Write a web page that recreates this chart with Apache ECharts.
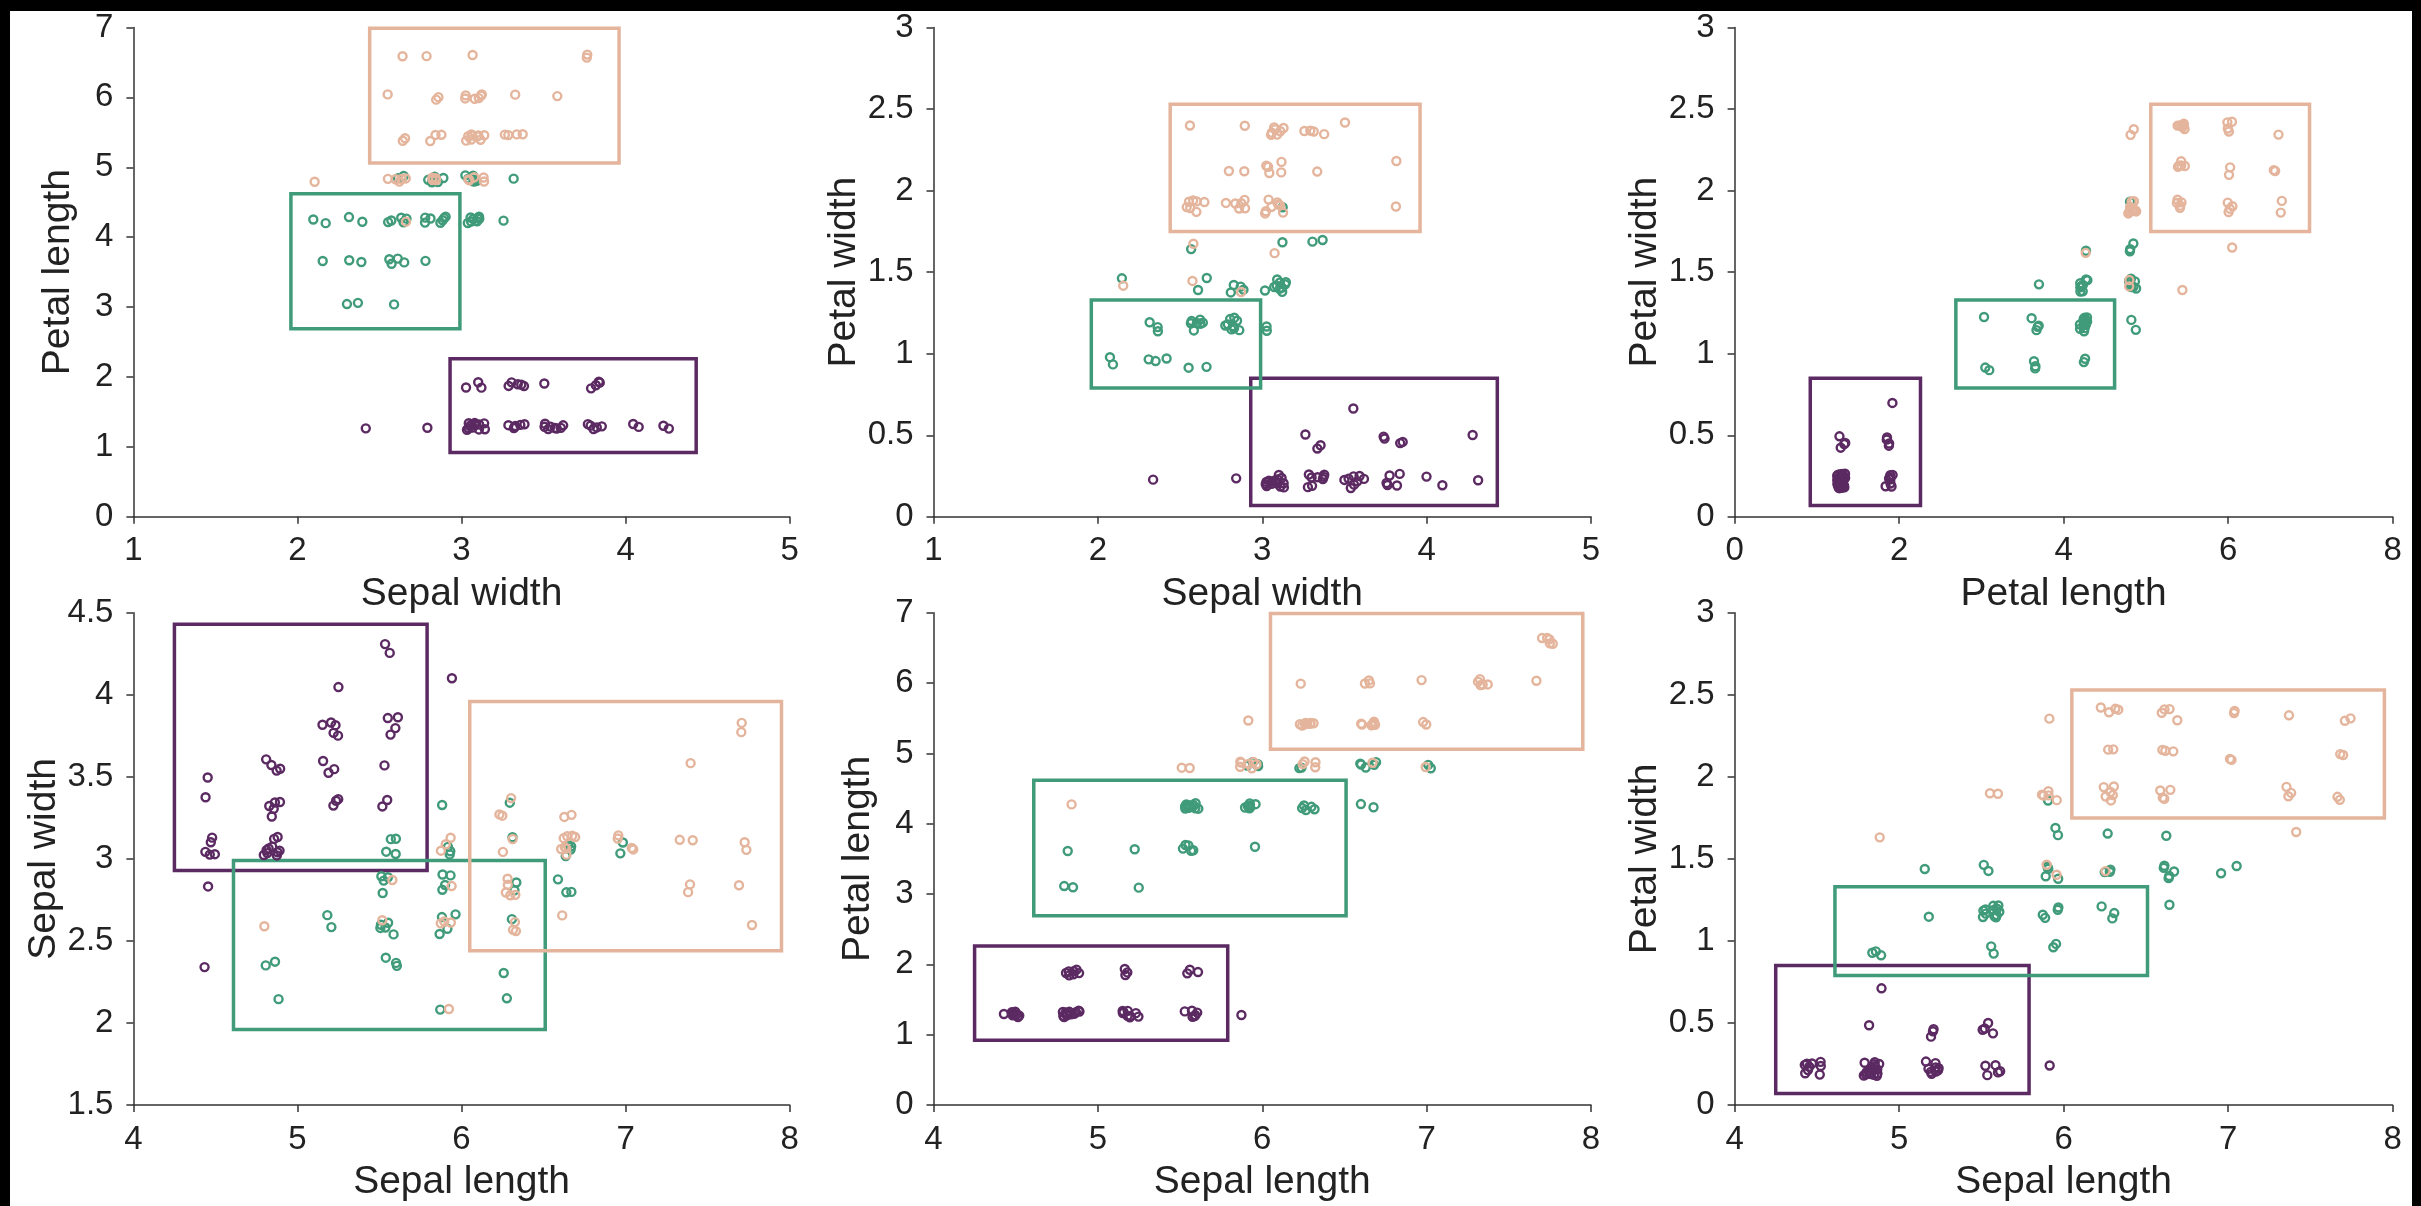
<!DOCTYPE html>
<html>
<head>
<meta charset="utf-8">
<title>iris bins</title>
<script src="https://cdn.jsdelivr.net/npm/echarts@6/dist/echarts.min.js"></script>
<style>
body{margin:0;background:#000;}
#chart{position:absolute;left:10px;top:11px;width:2402px;height:1195px;background:#fff;}
</style>
</head>
<body>
<div id="chart"></div>
<script>
// iris measurements, one array per species and variable
var setosaSL = [5.1,4.9,4.7,4.6,5.0,5.4,4.6,5.0,4.4,4.9,5.4,4.8,4.8,4.3,5.8,5.7,5.4,5.1,5.7,5.1,5.4,5.1,4.6,5.1,4.8,5.0,5.0,5.2,5.2,4.7,4.8,5.4,5.2,5.5,4.9,5.0,5.5,4.9,4.4,5.1,5.0,4.5,4.4,5.0,5.1,4.8,5.1,4.6,5.3,5.0];
var setosaSW = [3.5,3.0,3.2,3.1,3.6,3.9,3.4,3.4,2.9,3.1,3.7,3.4,3.0,3.0,4.0,4.4,3.9,3.5,3.8,3.8,3.4,3.7,3.6,3.3,3.4,3.0,3.4,3.5,3.4,3.2,3.1,3.4,4.1,4.2,3.1,3.2,3.5,3.6,3.0,3.4,3.5,2.3,3.2,3.5,3.8,3.0,3.8,3.2,3.7,3.3];
var setosaPL = [1.4,1.4,1.3,1.5,1.4,1.7,1.4,1.5,1.4,1.5,1.5,1.6,1.4,1.1,1.2,1.5,1.3,1.4,1.7,1.5,1.7,1.5,1.0,1.7,1.9,1.6,1.6,1.5,1.4,1.6,1.6,1.5,1.5,1.4,1.5,1.2,1.3,1.4,1.3,1.5,1.3,1.3,1.3,1.6,1.9,1.4,1.6,1.4,1.5,1.4];
var setosaPW = [0.2,0.2,0.2,0.2,0.2,0.4,0.3,0.2,0.2,0.1,0.2,0.2,0.1,0.1,0.2,0.4,0.4,0.3,0.3,0.3,0.2,0.4,0.2,0.5,0.2,0.2,0.4,0.2,0.2,0.2,0.2,0.4,0.1,0.2,0.2,0.2,0.2,0.1,0.2,0.2,0.3,0.3,0.2,0.6,0.4,0.3,0.2,0.2,0.2,0.2];

var versicolorSL = [7.0,6.4,6.9,5.5,6.5,5.7,6.3,4.9,6.6,5.2,5.0,5.9,6.0,6.1,5.6,6.7,5.6,5.8,6.2,5.6,5.9,6.1,6.3,6.1,6.4,6.6,6.8,6.7,6.0,5.7,5.5,5.5,5.8,6.0,5.4,6.0,6.7,6.3,5.6,5.5,5.5,6.1,5.8,5.0,5.6,5.7,5.7,6.2,5.1,5.7];
var versicolorSW = [3.2,3.2,3.1,2.3,2.8,2.8,3.3,2.4,2.9,2.7,2.0,3.0,2.2,2.9,2.9,3.1,3.0,2.7,2.2,2.5,3.2,2.8,2.5,2.8,2.9,3.0,2.8,3.0,2.9,2.6,2.4,2.4,2.7,2.7,3.0,3.4,3.1,2.3,3.0,2.5,2.6,3.0,2.6,2.3,2.7,3.0,2.9,2.9,2.5,2.8];
var versicolorPL = [4.7,4.5,4.9,4.0,4.6,4.5,4.7,3.3,4.6,3.9,3.5,4.2,4.0,4.7,3.6,4.4,4.5,4.1,4.5,3.9,4.8,4.0,4.9,4.7,4.3,4.4,4.8,5.0,4.5,3.5,3.8,3.7,3.9,5.1,4.5,4.5,4.7,4.4,4.1,4.0,4.4,4.6,4.0,3.3,4.2,4.2,4.2,4.3,3.0,4.1];
var versicolorPW = [1.4,1.5,1.5,1.3,1.5,1.3,1.6,1.0,1.3,1.4,1.0,1.5,1.0,1.4,1.3,1.4,1.5,1.0,1.5,1.1,1.8,1.3,1.5,1.2,1.3,1.4,1.4,1.7,1.5,1.0,1.1,1.0,1.2,1.6,1.5,1.6,1.5,1.3,1.3,1.3,1.2,1.4,1.2,1.0,1.3,1.2,1.3,1.3,1.1,1.3];

var virginicaSL = [6.3,5.8,7.1,6.3,6.5,7.6,4.9,7.3,6.7,7.2,6.5,6.4,6.8,5.7,5.8,6.4,6.5,7.7,7.7,6.0,6.9,5.6,7.7,6.3,6.7,7.2,6.2,6.1,6.4,7.2,7.4,7.9,6.4,6.3,6.1,7.7,6.3,6.4,6.0,6.9,6.7,6.9,5.8,6.8,6.7,6.7,6.3,6.5,6.2,5.9];
var virginicaSW = [3.3,2.7,3.0,2.9,3.0,3.0,2.5,2.9,2.5,3.6,3.2,2.7,3.0,2.5,2.8,3.2,3.0,3.8,2.6,2.2,3.2,2.8,2.8,2.7,3.3,3.2,2.8,3.0,2.8,3.0,2.8,3.8,2.8,2.8,2.6,3.0,3.4,3.1,3.0,3.1,3.1,3.1,2.7,3.2,3.3,3.0,2.5,3.0,3.4,3.0];
var virginicaPL = [6.0,5.1,5.9,5.6,5.8,6.6,4.5,6.3,5.8,6.1,5.1,5.3,5.5,5.0,5.1,5.3,5.5,6.7,6.9,5.0,5.7,4.9,6.7,4.9,5.7,6.0,4.8,4.9,5.6,5.8,6.1,6.4,5.6,5.1,5.6,6.1,5.6,5.5,4.8,5.4,5.6,5.1,5.1,5.9,5.7,5.2,5.0,5.2,5.4,5.1];
var virginicaPW = [2.5,1.9,2.1,1.8,2.2,2.1,1.7,1.8,1.8,2.5,2.0,1.9,2.1,2.0,2.4,2.3,1.8,2.2,2.3,1.5,2.3,2.0,2.0,1.8,2.1,1.8,1.8,1.8,2.1,1.6,1.9,2.0,2.2,1.5,1.4,2.3,2.4,1.8,1.8,2.1,2.4,2.3,1.9,2.3,2.5,2.3,1.9,2.0,2.3,1.8];

// rule boxes per species (setosa, versicolor, virginica)
var boxSL = [[4.25,5.79],[4.61,6.51],[6.05,7.95]];
var boxSW = [[2.93,4.43],[1.96,2.99],[2.44,3.96]];
var boxPL = [[0.92,2.26],[2.69,4.62],[5.06,6.99]];
var boxPW = [[0.07,0.85],[0.79,1.33],[1.75,2.53]];

var varNames = {sl:'Sepal length', sw:'Sepal width', pl:'Petal length', pw:'Petal width'};

// axis [min, max, interval] of each panel
var plots = [
	{x:'sw', y:'pl', xr:[1,5,1], yr:[0,7,1]},
	{x:'sw', y:'pw', xr:[1,5,1], yr:[0,3,0.5]},
	{x:'pl', y:'pw', xr:[0,8,2], yr:[0,3,0.5]},
	{x:'sl', y:'sw', xr:[4,8,1], yr:[1.5,4.5,0.5]},
	{x:'sl', y:'pl', xr:[4,8,1], yr:[0,7,1]},
	{x:'sl', y:'pw', xr:[4,8,1], yr:[0,3,0.5]}
];

var colors = ['#5c2a62','#409b7a','#e4b59c'];
var font = '"Liberation Sans", Arial, Helvetica, sans-serif';

var table = {
	sl:[setosaSL, versicolorSL, virginicaSL],
	sw:[setosaSW, versicolorSW, virginicaSW],
	pl:[setosaPL, versicolorPL, virginicaPL],
	pw:[setosaPW, versicolorPW, virginicaPW]
};
var boxes = {sl:boxSL, sw:boxSW, pl:boxPL, pw:boxPW};
var spread = {sl:0.055, sw:0.065, pl:0.05, pw:0.045};

function range(key){
	var all = table[key][0].concat(table[key][1], table[key][2]);
	return [Math.min.apply(null, all), Math.max.apply(null, all)];
}
var ranges = {sl:range('sl'), sw:range('sw'), pl:range('pl'), pw:range('pw')};

// 10 equal width bins, value drawn at bin centre
function binCenter(v, key){
	var lo = ranges[key][0], hi = ranges[key][1];
	var w = (hi - lo) / 10;
	var b = Math.ceil((v - lo) / w - 1e-9) - 1;
	if(b < 0){ b = 0; }
	if(b > 9){ b = 9; }
	return lo + (b + 0.5) * w;
}

// small display spread so stacked points stay visible
function shake(k, p, axis){
	var g = axis ? 0.7548776662 : 0.5698402910;
	var u = ((k + 1) * g + p * 0.381966 + axis * 0.5) % 1;
	return u * 2 - 1;
}

var lefts = [123.4, 923.5, 1724.6];
var widths = [656.3, 657.5, 658];
var tops = [15.9, 601.8];
var heights = [489.9, 492.2];

var grids = [], xAxes = [], yAxes = [], series = [];

function axisStyle(){
	return {
		axisLine:{show:true, onZero:false, lineStyle:{color:'#333', width:1.5}},
		axisTick:{show:true, inside:false, length:7, lineStyle:{color:'#333', width:1.5}},
		splitLine:{show:false}
	};
}

for(var p=0;p<plots.length;p++){
	var pl = plots[p];
	var col = p % 3, row = Math.floor(p / 3);
	grids.push({left:lefts[col], top:tops[row], width:widths[col], height:heights[row]});

	var xa = axisStyle();
	xa.gridIndex = p; xa.type = 'value';
	xa.min = pl.xr[0]; xa.max = pl.xr[1]; xa.interval = pl.xr[2];
	xa.name = varNames[pl.x]; xa.nameLocation = 'middle'; xa.nameGap = 58;
	xa.nameTextStyle = {fontSize:39, color:'#222', fontFamily:font};
	xa.axisLabel = {fontSize:33, color:'#222', fontFamily:font, margin:18};
	xAxes.push(xa);

	var ya = axisStyle();
	ya.gridIndex = p; ya.type = 'value';
	ya.min = pl.yr[0]; ya.max = pl.yr[1]; ya.interval = pl.yr[2];
	ya.name = varNames[pl.y]; ya.nameLocation = 'middle'; ya.nameGap = 56;
	ya.nameTextStyle = {fontSize:39, color:'#222', fontFamily:font};
	ya.axisLabel = {fontSize:33, color:'#222', fontFamily:font, margin:20};
	yAxes.push(ya);

	for(var s=0;s<3;s++){
		var xs = table[pl.x][s], ys = table[pl.y][s];
		var pts = [];
		for(var i=0;i<xs.length;i++){
			var k = s * 50 + i;
			pts.push([
				binCenter(xs[i], pl.x) + shake(k, p, 0) * spread[pl.x],
				binCenter(ys[i], pl.y) + shake(k, p, 1) * spread[pl.y]
			]);
		}
		var bx = boxes[pl.x][s], by = boxes[pl.y][s];
		series.push({
			type:'scatter',
			xAxisIndex:p, yAxisIndex:p,
			symbol:'circle', symbolSize:8,
			itemStyle:{color:'rgba(255,255,255,0)', borderColor:colors[s], borderWidth:2.4, opacity:1},
			data:pts,
			markArea:{
				silent:true,
				label:{show:false},
				itemStyle:{color:'rgba(255,255,255,0)', borderColor:colors[s], borderWidth:3.5},
				data:[[{xAxis:bx[0], yAxis:by[0]}, {xAxis:bx[1], yAxis:by[1]}]]
			}
		});
	}
}

var myChart = echarts.init(document.getElementById('chart'));
myChart.setOption({
	animation:false,
	backgroundColor:'#fff',
	grid:grids,
	xAxis:xAxes,
	yAxis:yAxes,
	series:series
});
</script>
</body>
</html>
